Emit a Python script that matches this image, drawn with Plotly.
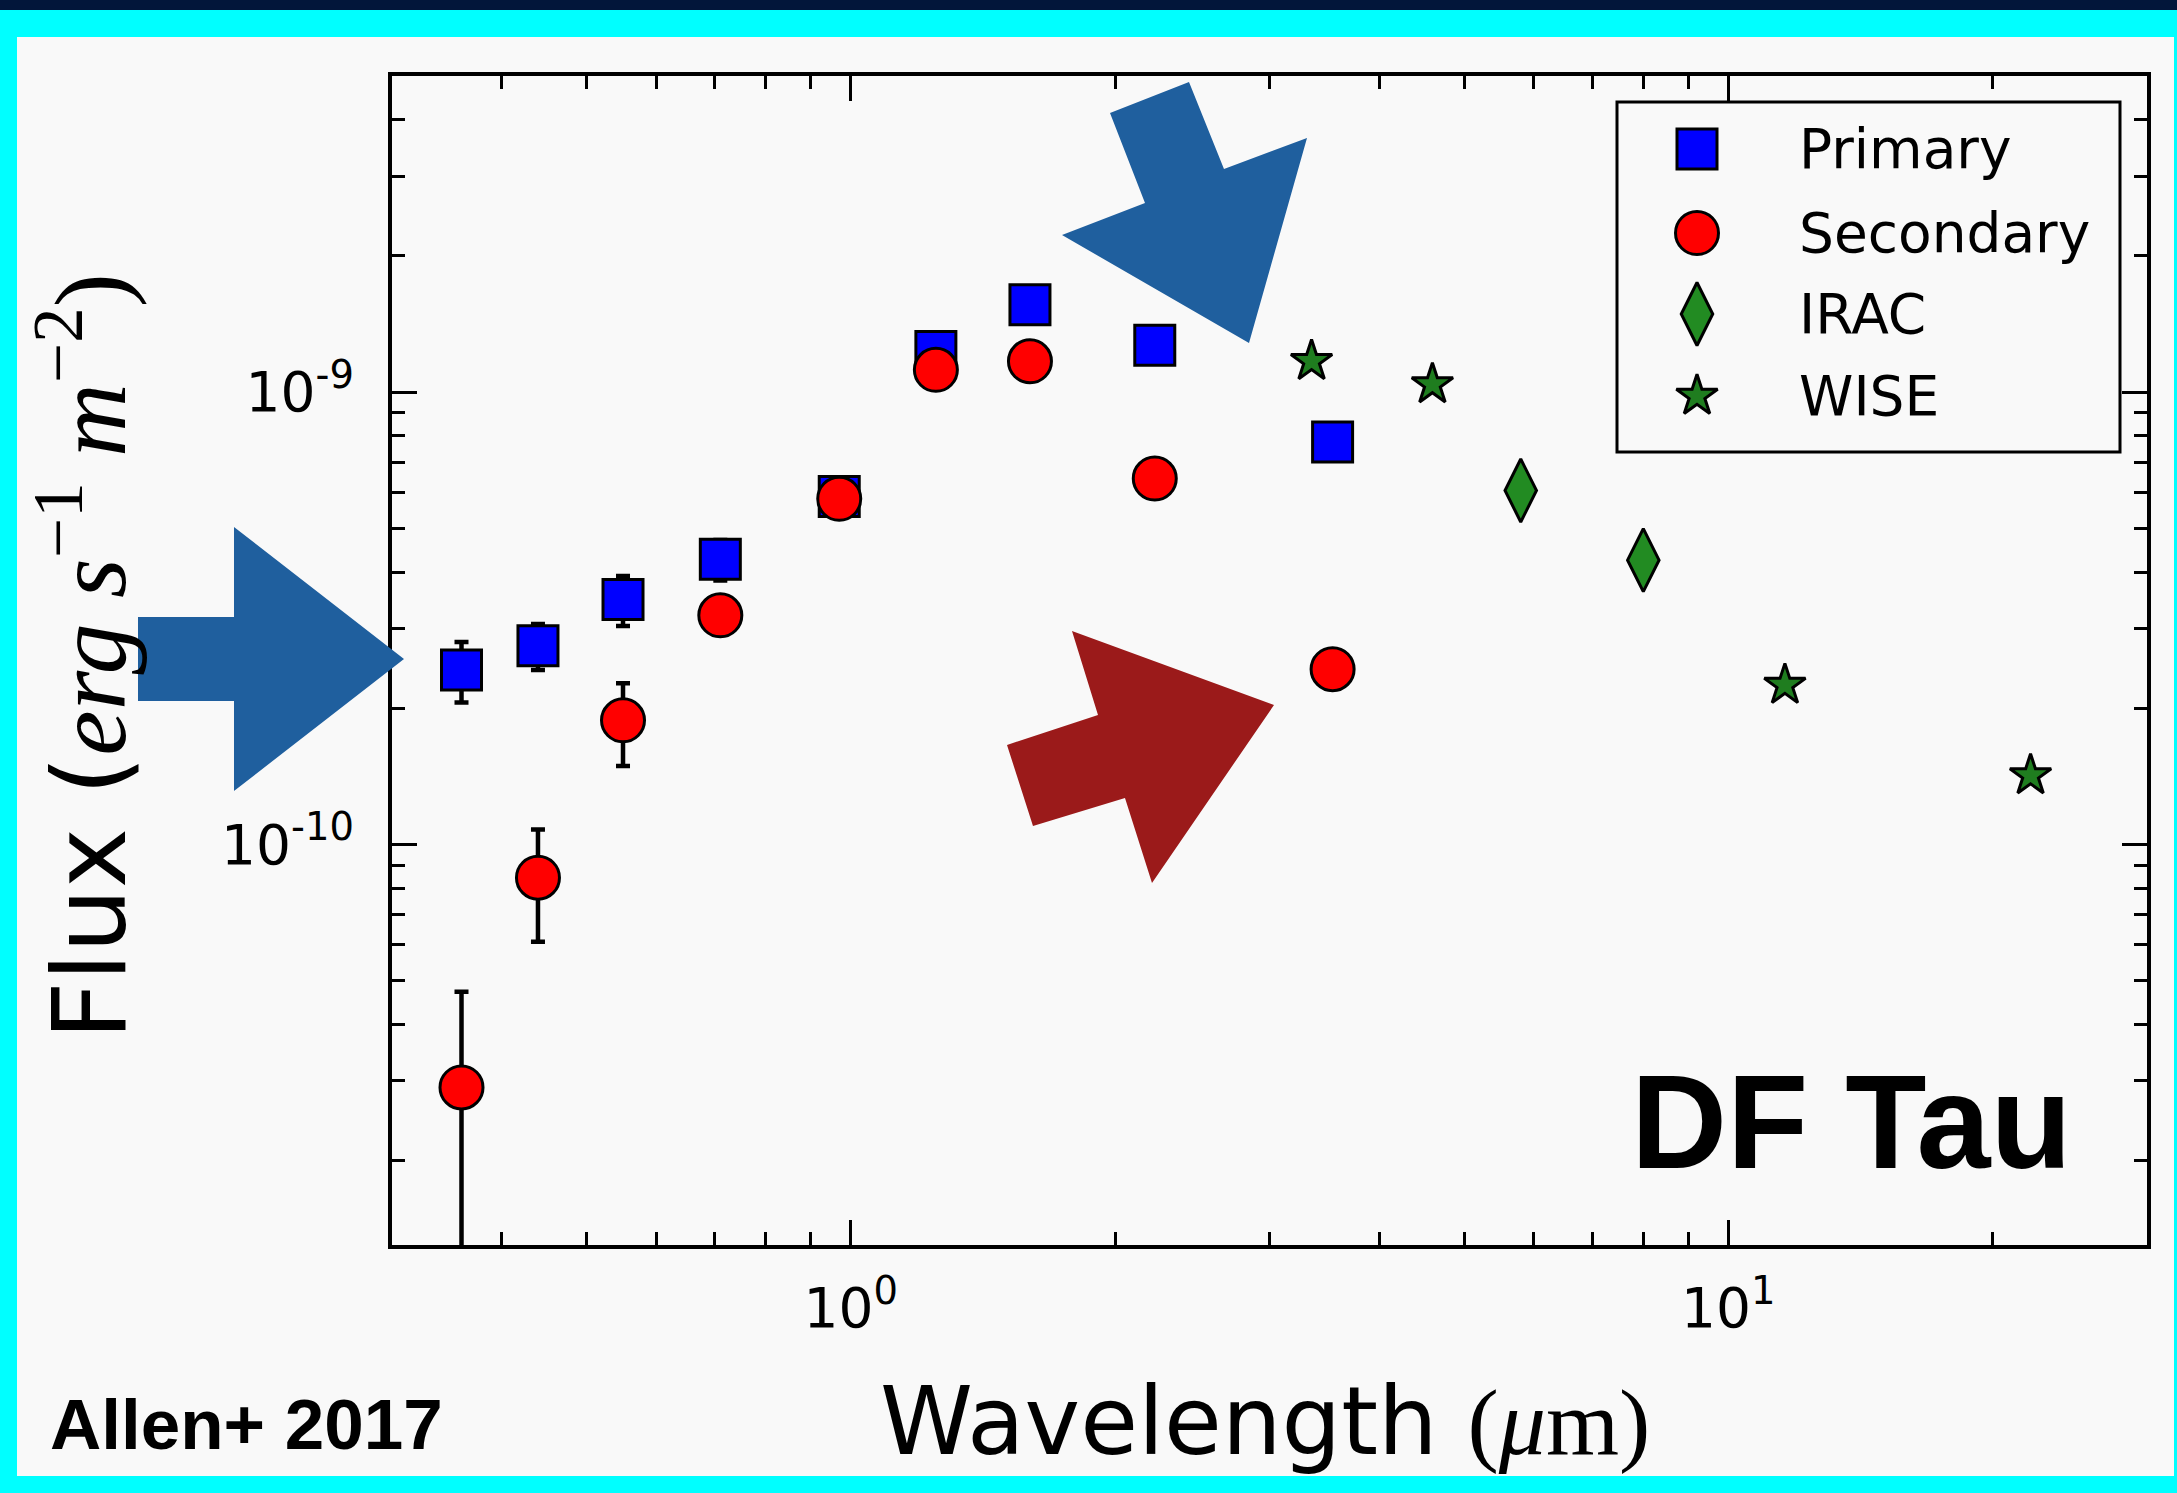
import plotly.graph_objects as go

# ---- photometry (wavelength in micron, flux in erg s^-1 m^-2) ----
band_wavelength = [0.36, 0.44, 0.55, 0.71, 0.97, 1.25, 1.60, 2.22, 3.54]
primary_flux = [2.43e-10, 2.75e-10, 3.48e-10, 4.27e-10, 5.88e-10, 1.23e-9, 1.56e-9, 1.27e-9, 7.76e-10]
primary_err = [3.7e-11, 3.2e-11, 4.4e-11, 4.4e-11, 3.0e-11, 6.2e-11, 9.8e-11, 4.5e-11, 5.4e-11]
secondary_flux = [2.90e-11, 8.44e-11, 1.88e-10, 3.21e-10, 5.81e-10, 1.12e-9, 1.17e-9, 6.44e-10, 2.44e-10]
secondary_err = [1.82e-11, 2.35e-11, 3.9e-11, 1.3e-11, 1.8e-11, 4.0e-11, 1.1e-10, 2.7e-11, 2.3e-11]
irac_wavelength = [5.8, 8.0]
irac_flux = [6.06e-10, 4.25e-10]
wise_wavelength = [3.35, 4.6, 11.6, 22.1]
wise_flux = [1.17e-9, 1.04e-9, 2.25e-10, 1.42e-10]

series_names = ["Primary", "Secondary", "IRAC", "WISE"]
x_tickvals = [1, 10]
x_ticktext = ["10<sup>0</sup>", "10<sup>1</sup>"]
y_tickvals = [1e-10, 1e-9]
y_ticktext = ["10<sup>-10</sup>", "10<sup>-9</sup>"]

# ---- page geometry (pixels) ----
W, H = 2177, 1493
L, R, T, B = 392, 2147, 76, 1245


def px(x):
    return (x - L) / (R - L)


def py(y):
    return 1 - (y - T) / (B - T)


def poly(points):
    return "M " + " L ".join(f"{px(a):.5f},{py(b):.5f}" for a, b in points) + " Z"


edge = dict(color="black", width=3)
styles = {
    "Primary": dict(symbol="square", size=40, color="#0000ff", line=edge),
    "Secondary": dict(symbol="circle", size=43, color="#ff0000", line=edge),
    "IRAC": dict(symbol="diamond-tall", size=45, color="#228b22", line=edge),
    "WISE": dict(symbol="star", size=31, color="#1f7d1f", line=edge),
}

err_style = dict(type="data", color="black", thickness=4.5, width=7)

fig = go.Figure()
fig.add_trace(go.Scatter(x=band_wavelength, y=primary_flux, mode="markers", name="Primary",
                         marker=styles["Primary"],
                         error_y=dict(array=primary_err, **err_style)))
fig.add_trace(go.Scatter(x=band_wavelength, y=secondary_flux, mode="markers", name="Secondary",
                         marker=styles["Secondary"],
                         error_y=dict(array=secondary_err, **err_style)))
fig.add_trace(go.Scatter(x=irac_wavelength, y=irac_flux, mode="markers", name="IRAC",
                         marker=styles["IRAC"]))
fig.add_trace(go.Scatter(x=wise_wavelength, y=wise_flux, mode="markers", name="WISE",
                         marker=styles["WISE"]))

# ---- legend box: keys on a pixel-space overlay axis ----
leg_rows = [149, 233, 314, 396]
leg_key_x = 1697
leg_text_x = 1797
for name, row in zip(series_names, leg_rows):
    fig.add_trace(go.Scatter(x=[leg_key_x], y=[row], xaxis="x2", yaxis="y2", mode="markers",
                             marker=styles[name], cliponaxis=False, showlegend=False,
                             hoverinfo="skip"))

annotations = []
for name, row in zip(series_names, leg_rows):
    annotations.append(dict(x=px(leg_text_x), y=py(row), xref="paper", yref="paper",
                            text=name, showarrow=False, xanchor="left", yanchor="middle",
                            font=dict(family="DejaVu Sans", size=55, color="black")))

serif = "font-family:'Liberation Serif'"
annotations += [
    dict(x=px(1265), y=py(1421), xref="paper", yref="paper", showarrow=False,
         xanchor="center", yanchor="middle",
         text=f"Wavelength <span style=\"{serif}\">(<i>μ</i>m)</span>",
         font=dict(family="DejaVu Sans", size=94, color="black")),
    dict(x=px(83), y=py(657), xref="paper", yref="paper", showarrow=False,
         xanchor="center", yanchor="middle", textangle=-90,
         text=(f"Flux (<span style=\"{serif}\"><i>erg s</i><sup>−1</sup> "
               f"<i>m</i><sup>−2</sup>)</span>"),
         font=dict(family="DejaVu Sans", size=102, color="black")),
    dict(x=px(1851), y=py(1122), xref="paper", yref="paper", showarrow=False,
         xanchor="center", yanchor="middle", text="<b>DF Tau</b>",
         font=dict(family="Liberation Sans", size=133, color="black")),
    dict(x=px(246), y=py(1424), xref="paper", yref="paper", showarrow=False,
         xanchor="center", yanchor="middle", text="<b>Allen+ 2017</b>",
         font=dict(family="Liberation Sans", size=71, color="black")),
]

blue = "#1f5f9e"
red = "#9b1a1a"
shapes = [
    # dark strip along the top edge and the light inner panel
    dict(type="rect", xref="paper", yref="paper", x0=px(0), x1=px(W), y0=py(0), y1=py(10),
         fillcolor="#02163a", line=dict(width=0), layer="below"),
    dict(type="rect", xref="paper", yref="paper", x0=px(17), x1=px(2174), y0=py(37), y1=py(1476),
         fillcolor="#f9f9f9", line=dict(width=0), layer="below"),
    # legend frame
    dict(type="rect", xref="paper", yref="paper", x0=px(1617), x1=px(2120), y0=py(102), y1=py(452),
         fillcolor="rgba(0,0,0,0)", line=dict(color="black", width=3), layer="below"),
    # pointer arrows
    dict(type="path", xref="paper", yref="paper", fillcolor=blue, line=dict(width=0), layer="above",
         path=poly([(138, 617), (234, 617), (234, 527), (404, 659), (234, 791), (234, 701), (138, 701)])),
    dict(type="path", xref="paper", yref="paper", fillcolor=blue, line=dict(width=0), layer="above",
         path=poly([(1110, 113), (1189, 82), (1224, 169), (1307, 138), (1249, 343), (1062, 235), (1145, 203)])),
    dict(type="path", xref="paper", yref="paper", fillcolor=red, line=dict(width=0), layer="above",
         path=poly([(1274, 705), (1072, 631), (1098, 715), (1007, 745), (1033, 826), (1125, 798), (1152, 883)])),
]

x_minor = [v * m for v in (0.1, 1, 10) for m in range(2, 10) if 0.3 <= v * m <= 30]
y_minor = [v * m for v in (1e-11, 1e-10, 1e-9) for m in range(2, 10) if 1.3e-11 <= v * m <= 5e-9]

axis_common = dict(showline=True, linecolor="black", linewidth=4, mirror="allticks",
                   ticks="inside", ticklen=25, tickwidth=3, tickcolor="black",
                   showgrid=False, zeroline=False, tickmode="array",
                   tickfont=dict(family="DejaVu Sans", size=55, color="black"))

fig.update_layout(
    width=W, height=H,
    margin=dict(l=L, r=W - R, t=T, b=H - B, pad=0),
    paper_bgcolor="#00ffff",
    plot_bgcolor="rgba(0,0,0,0)",
    showlegend=False,
    xaxis=dict(type="log", range=[-0.5229, 1.4771], tickvals=x_tickvals, ticktext=x_ticktext,
               ticklabelstandoff=12,
               minor=dict(tickmode="array", tickvals=x_minor, ticks="inside", ticklen=13,
                          tickwidth=3, tickcolor="black", showgrid=False),
               **axis_common),
    yaxis=dict(type="log", range=[-10.886, -8.301], tickvals=y_tickvals, ticktext=y_ticktext,
               ticklabelstandoff=23,
               minor=dict(tickmode="array", tickvals=y_minor, ticks="inside", ticklen=13,
                          tickwidth=3, tickcolor="black", showgrid=False),
               **axis_common),
    xaxis2=dict(overlaying="x", range=[L, R], visible=False),
    yaxis2=dict(overlaying="y", range=[B, T], visible=False),
    annotations=annotations,
    shapes=shapes,
)

fig.write_html("out.html")
